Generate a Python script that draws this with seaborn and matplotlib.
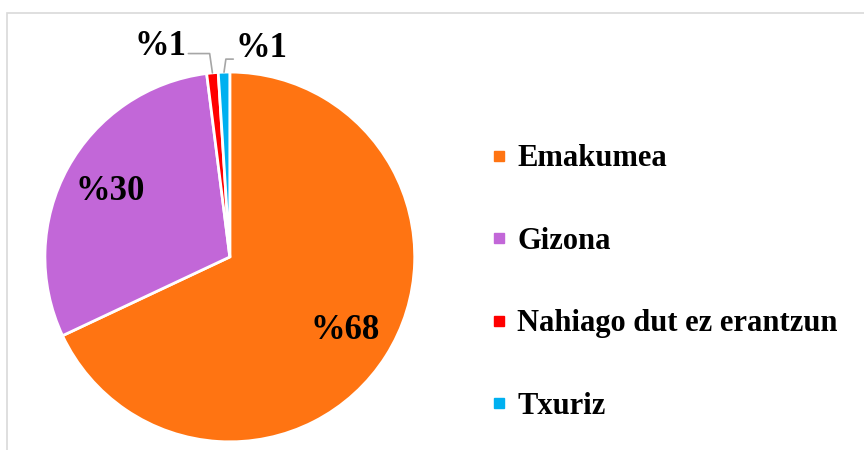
import numpy as np
import matplotlib
matplotlib.use("Agg")
import matplotlib.pyplot as plt
from matplotlib.lines import Line2D
from matplotlib.patches import Rectangle
import seaborn as sns

# data
categories = ["Emakumea", "Gizona", "Nahiago dut ez erantzun", "Txuriz"]
values = [68, 30, 1, 1]
colors = ["#FF7412", "#C267D8", "#FF0000", "#00B0F0"]

sns.set_theme(style="white")
plt.rcParams['font.family'] = ['Liberation Serif', 'DejaVu Serif']
plt.rcParams['font.weight'] = 'bold'
plt.rcParams['text.color'] = 'black'

fig = plt.figure(figsize=(8.64, 4.5), dpi=100)
ax = fig.add_axes([0.052, 0.018, 0.428, 0.822])

wedges, _ = ax.pie(values, colors=colors, startangle=90, counterclock=False,
                   wedgeprops=dict(edgecolor="white", linewidth=2))
ax.set_xlim(-1, 1)
ax.set_ylim(-1, 1)
ax.set_aspect("equal")

# labels inside the big slices, leader lines for the small ones
small_offsets = {2: -0.13, 3: 0.05}
for i, (w, v) in enumerate(zip(wedges, values)):
    ang = np.deg2rad((w.theta1 + w.theta2) / 2)
    x, y = np.cos(ang), np.sin(ang)
    label = f"%{v}"
    if v >= 5:
        ax.text(0.74 * x, 0.74 * y, label, ha="center", va="center",
                fontsize=25, fontweight="bold", color="black")
    else:
        dx = small_offsets[i]
        ky = 1.10 if i == 2 else 1.07
        ax.plot([x, x - 0.015 if i == 2 else x + 0.01, x + dx],
                [y, ky, ky], color="#a6a6a6", lw=1.2, clip_on=False)
        if i == 2:
            ax.text(x + dx - 0.01, ky + 0.04, label, ha="right", va="center",
                    fontsize=25, fontweight="bold", clip_on=False)
        else:
            ax.text(x + dx + 0.01, ky + 0.06, label, ha="left", va="center",
                    fontsize=25, fontweight="bold", clip_on=False)

handles = [Line2D([0], [0], marker="s", linestyle="none", markersize=7,
                  markerfacecolor=c, markeredgecolor=c) for c in colors]
fig.legend(handles, categories, loc="center left", bbox_to_anchor=(0.535, 0.372),
           frameon=False, prop=dict(size=22, weight="bold"),
           labelspacing=1.75, handlelength=0.6, handletextpad=0.3)

# light outer border
fig.patches.append(Rectangle((0.008, -0.1), 1.1, 1.072, transform=fig.transFigure,
                             fill=False, edgecolor="#d9d9d9", linewidth=1.2))

fig.savefig("out.png", dpi=100)
